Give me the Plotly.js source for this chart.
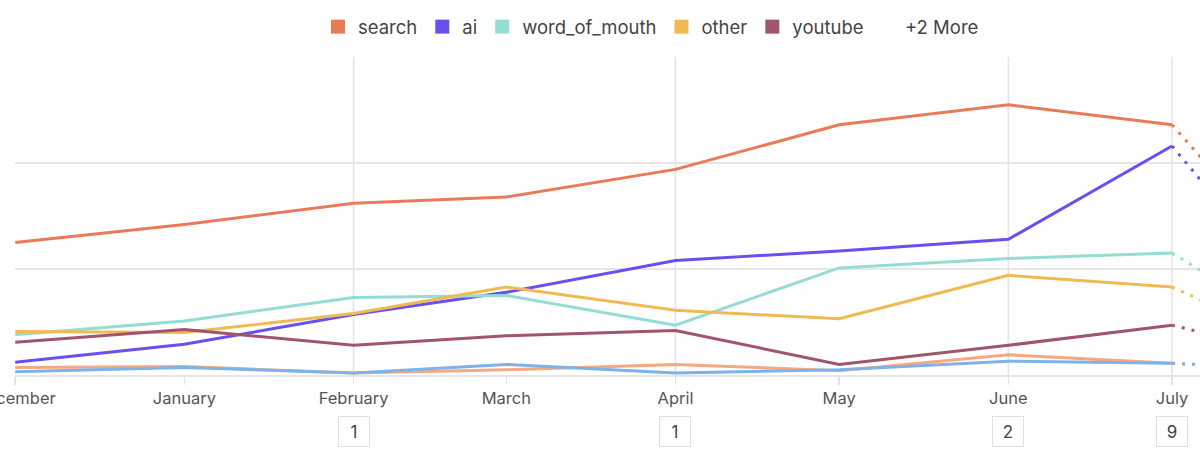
<!DOCTYPE html>
<html>
<head>
<meta charset="utf-8">
<script src="https://cdn.plot.ly/plotly-3.0.1.min.js"></script>
<style>
  html, body { margin: 0; padding: 0; background: #fff; }
  #chart { width: 1200px; height: 458px; }
</style>
</head>
<body>
<div id="chart"></div>
<script>
// months shown on the axis, plus the partial month the dotted tail points to
const monthDates = ['2024-12-01', '2025-01-01', '2025-02-01', '2025-03-01', '2025-04-01', '2025-05-01', '2025-06-01', '2025-07-01', '2025-08-01'];
const monthLabels = ['December', 'January', 'February', 'March', 'April', 'May', 'June', 'July', 'August'];

const seriesNames = ['search', 'ai', 'word_of_mouth', 'other', 'youtube', 'referral', 'social'];
const search = [12.5, 14.2, 16.2, 16.8, 19.4, 23.6, 25.5, 23.6, 5.6];
const ai = [1.2, 2.9, 5.7, 7.8, 10.8, 11.7, 12.8, 21.6, 2.6];
const wordOfMouth = [3.8, 5.1, 7.3, 7.5, 4.7, 10.1, 11.0, 11.5, 1.9];
const other = [4.1, 4.0, 5.8, 8.3, 6.1, 5.3, 9.4, 8.3, 1.1];
const youtube = [3.1, 4.3, 2.8, 3.7, 4.2, 1.0, 2.8, 4.7, 0.8];
const referral = [0.7, 0.8, 0.2, 0.5, 1.0, 0.4, 1.9, 1.1, 0.3];
const social = [0.3, 0.7, 0.2, 1.0, 0.2, 0.5, 1.3, 1.1, 0.4];

// event markers under the axis
const markerDates = ['2025-02-01', '2025-04-01', '2025-06-01', '2025-07-01'];
const markerCounts = ['1', '1', '2', '9'];

const colors = ['#EB7A59', '#6A4EEF', '#93DDD3', '#F0BA52', '#A0566A', '#F4A981', '#7DB3EA'];
const allValues = [search, ai, wordOfMouth, other, youtube, referral, social];
const shownInLegend = 5;
const font = 'Inter, "Open Sans", sans-serif';

const traces = [];
// solid part up to the last complete month
allValues.forEach((vals, i) => {
    traces.push({
        x: monthDates.slice(0, 8),
        y: vals.slice(0, 8),
        name: seriesNames[i],
        type: 'scatter',
        mode: 'lines',
        line: { color: colors[i], width: 3 },
        showlegend: false,
        hoverinfo: 'skip'
    });
});
// dotted part into the current month
allValues.forEach((vals, i) => {
    traces.push({
        x: monthDates.slice(7),
        y: vals.slice(7),
        name: seriesNames[i],
        type: 'scatter',
        mode: 'lines',
        line: { color: colors[i], width: 3, dash: '3px,7px' },
        showlegend: false,
        hoverinfo: 'skip'
    });
});
// legend swatches
for (let i = 0; i < shownInLegend; i++) {
    traces.push({
        x: [null],
        y: [null],
        name: seriesNames[i],
        type: 'scatter',
        mode: 'markers',
        marker: { color: colors[i], symbol: 'square', size: 14 },
        showlegend: true
    });
}

const shapes = markerDates.map(d => ({
    type: 'line',
    xref: 'x', yref: 'paper',
    x0: d, x1: d, y0: 0, y1: 1,
    line: { color: '#e3e3e3', width: 1.5 },
    layer: 'below'
}));

const annotations = markerDates.map((d, i) => ({
    x: d, xref: 'x',
    y: -0.179, yref: 'paper',
    yanchor: 'middle',
    text: markerCounts[i],
    showarrow: false,
    font: { family: font, size: 17, color: '#444' },
    bordercolor: '#e0e0e0',
    borderwidth: 1,
    borderpad: 5,
    width: 20,
    height: 19,
    bgcolor: '#fff'
}));
annotations.push({
    x: 0.749, xref: 'paper', xanchor: 'left',
    y: 1.094, yref: 'paper',
    yanchor: 'middle',
    text: '+2 More',
    showarrow: false,
    font: { family: font, size: 18.5, color: '#444' }
});

const layout = {
    width: 1200,
    height: 458,
    margin: { l: 15, r: 0, t: 57, b: 83 },
    paper_bgcolor: '#fff',
    plot_bgcolor: '#fff',
    font: { family: font, color: '#555' },
    showlegend: true,
    legend: {
        orientation: 'h',
        x: 0.2557, xanchor: 'left',
        y: 1.094, yanchor: 'middle',
        font: { family: font, size: 18.5, color: '#444' },
        itemclick: false
    },
    xaxis: {
        type: 'date',
        range: ['2024-11-30 23:00', '2025-07-06 03:00'],
        tickvals: monthDates,
        ticktext: monthLabels,
        ticklabeloverflow: 'allow',
        ticks: 'outside',
        ticklen: 8,
        tickcolor: '#e3e3e3',
        tickwidth: 1.5,
        showgrid: false,
        showline: true,
        linecolor: '#e6e6e6',
        linewidth: 1.5,
        zeroline: false,
        tickfont: { family: font, size: 16.5, color: '#555' },
        fixedrange: true
    },
    yaxis: {
        range: [0, 30],
        dtick: 10,
        showgrid: true,
        gridcolor: '#e6e6e6',
        gridwidth: 1.5,
        showticklabels: false,
        zeroline: false,
        fixedrange: true
    },
    shapes: shapes,
    annotations: annotations
};

Plotly.newPlot('chart', traces, layout, { displayModeBar: false, staticPlot: true });
</script>
</body>
</html>
